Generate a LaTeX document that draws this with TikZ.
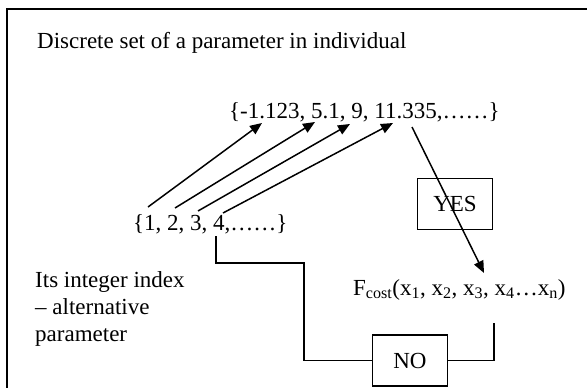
\documentclass[tikz,border=0pt]{standalone}
\usepackage{fontspec}
\setmainfont{Liberation Serif}
\usetikzlibrary{arrows.meta}
\begin{document}
\begin{tikzpicture}[x=1pt,y=-1pt,
  every node/.style={font=\fontsize{23}{27}\selectfont, inner sep=0pt},
  box/.style={draw, line width=1.4pt, minimum width=75pt, minimum height=51pt},
  link/.style={line width=1.5pt},
  arr/.style={link, -{Triangle[length=12pt,width=10pt]}}]
\useasboundingbox (0,0) rectangle (587,388);
\draw[line width=1.6pt] (7,388) -- (7,9) -- (587,9);

\node[anchor=base west] (title) at (37,48) {Discrete set of a parameter in individual};
\node[anchor=base west] (reals) at (229,118) {\{-1.123, 5.1, 9, 11.335,……\}};
\node[anchor=base west] (ints) at (133,230) {\{1, 2, 3, 4,……\}};
\node[anchor=north west, align=left] (idx) at (35,271) {Its integer index\\– alternative\\parameter};
\node[box] (yes) at (455,204) {YES};
\node[box] (no) at (410,360.5) {NO};
\node[anchor=base west] (cost) at (353,295) {F\textsubscript{cost}(x\textsubscript{1}, x\textsubscript{2}, x\textsubscript{3}, x\textsubscript{4}…x\textsubscript{n})};

\coordinate (i1) at (148,207);
\coordinate (i2) at (175,208);
\coordinate (i3) at (198,211);
\coordinate (i4) at (223,213);
\coordinate (r1) at (262,123);
\coordinate (r2) at (315,122);
\coordinate (r3) at (350,124);
\coordinate (r4) at (393,123);
\foreach \k in {1,...,4}
  \draw[arr] (i\k) -- (r\k);

\coordinate (r5) at (412,127);
\coordinate (c1) at (484,273);
\draw[arr] (r5) -- (c1);

\coordinate (i5) at (216,236);
\coordinate (c2) at (494,323);
\draw[link] (i5) |- (304,263) |- (no.west);
\draw[link] (no.east) -| (c2);
\end{tikzpicture}
\end{document}
